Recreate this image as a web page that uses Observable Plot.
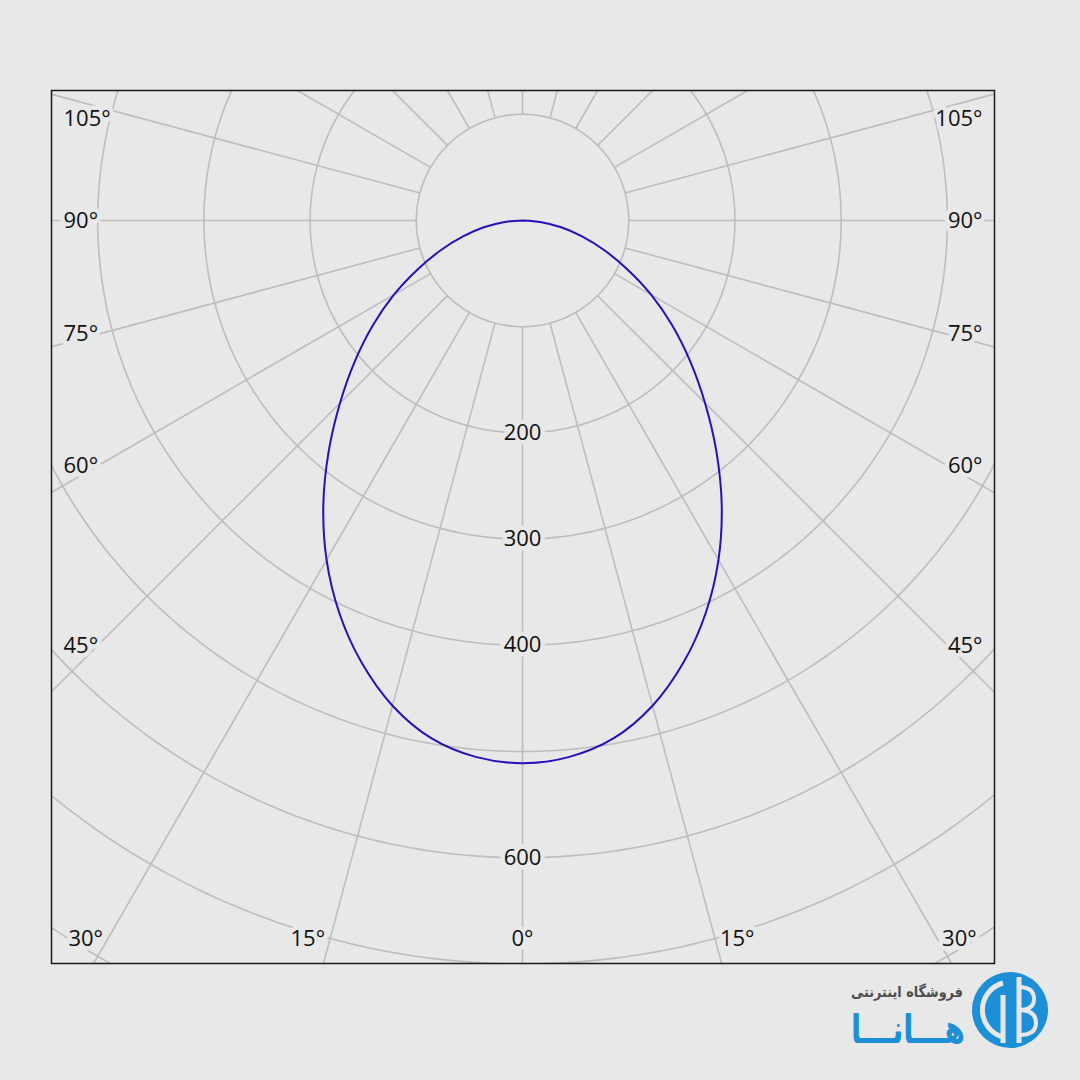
<!DOCTYPE html>
<html><head><meta charset="utf-8">
<script src="https://cdn.jsdelivr.net/npm/d3@7"></script>
<script src="https://cdn.jsdelivr.net/npm/@observablehq/plot@0.6"></script>
<style>
html,body{margin:0;padding:0;background:#e8e8e8;width:1080px;height:1080px;overflow:hidden}
#chart svg{display:block;background:#e8e8e8}
#logo{display:block}
</style></head><body>
<div id="chart"></div>
<svg id="logo" width="1080" height="115" viewBox="0 0 1080 115">
  <text x="907" y="32" text-anchor="middle" font-family="DejaVu Sans" font-weight="bold" font-size="15" fill="#4d4d4d" textLength="112" lengthAdjust="spacingAndGlyphs">فروشگاه اینترنتی</text>
  <text x="908" y="78" text-anchor="middle" font-family="DejaVu Sans" font-weight="bold" font-size="40" fill="#1d8fd6" textLength="114" lengthAdjust="spacingAndGlyphs">هـــانـــا</text>
  <circle cx="1010" cy="45" r="38" fill="#1d8fd6"/>
  <path d="M 1003 18 A 28 28 0 0 0 1003 72" fill="none" stroke="#e8e8e8" stroke-width="5"/>
  <line x1="1003" y1="30" x2="1003" y2="78" stroke="#e8e8e8" stroke-width="5"/>
  <line x1="1019" y1="12" x2="1019" y2="78" stroke="#e8e8e8" stroke-width="5"/>
  <path d="M 1019 22 Q 1034 22 1034 34 Q 1034 45 1019 45 Q 1036 45 1036 58 Q 1036 70 1019 70" fill="none" stroke="#e8e8e8" stroke-width="4"/>
</svg>
<script>
// Luminous intensity (cd/klm) per angle from nadir, symmetric distribution
const angles = [0,5,10,15,20,25,30,35,40,45,50,55,60,65,70,75,80,85,90];
const intensity = [511,507,495,473,443,408,369,327,284,243,206,172,140,109,82,58,37,18,0];

// Grid definitions
const ringValues = [100,200,300,400,500,600,700,800,900];
const ringLabels = [200,300,400,600];
const spokeAngles = d3.range(0, 360, 15);
const sideAngleLabels = [45,60,75,90,105];
const bottomAngleLabels = [0,15,30];

// visible window in intensity units (center of diagram at 0,0; y grows downward)
const xDomain = [-443.5, 444.4];
const yDomain = [699.6, -122.4];
const pxPerUnit = 943 / (xDomain[1] - xDomain[0]);

const rad = d => d * Math.PI / 180;
const bg = "#e8e8e8";

// curve points, mirrored
const curve = [];
for (let i = angles.length - 1; i > 0; i--) curve.push({a: -angles[i], r: intensity[i]});
for (let i = 0; i < angles.length; i++) curve.push({a: angles[i], r: intensity[i]});
curve.forEach(d => { d.x = d.r * Math.sin(rad(d.a)); d.y = d.r * Math.cos(rad(d.a)); });

// rings
const ringPts = [];
for (const r of ringValues) for (let p = 0; p <= 360; p += 1)
  ringPts.push({r, x: r * Math.sin(rad(p)), y: r * Math.cos(rad(p))});

// spokes
const spokes = spokeAngles.map(a => ({
  x1: 100 * Math.sin(rad(a)), y1: 100 * Math.cos(rad(a)),
  x2: 1000 * Math.sin(rad(a)), y2: 1000 * Math.cos(rad(a))
}));

// angle labels, grouped by anchor
const labStart = [], labEnd = [], labMid = [], labBStart = [], labBEnd = [];
const inset = 47 / pxPerUnit, topLim = yDomain[1] + 28 / pxPerUnit;
for (const a of sideAngleLabels) {
  const xr = xDomain[1] - inset;
  let y = Math.cos(rad(a)) * (xr / Math.sin(rad(a)));
  y = Math.max(y, topLim);
  labStart.push({x: xDomain[0], y, t: a + "°"});
  labEnd.push({x: xDomain[1], y, t: a + "°"});
}
const yb = yDomain[0] - 25 / pxPerUnit;
for (const a of bottomAngleLabels) {
  const x = Math.tan(rad(a)) * yb;
  if (a === 0) labMid.push({x: 0, y: yb, t: "0°"});
  else {
    labBStart.push({x: x, y: yb, t: a + "°"});
    labBEnd.push({x: -x, y: yb, t: a + "°"});
  }
}

const font = "Open Sans";
const txt = {x: "x", y: "y", text: "t", fontSize: 22, fill: "#111", stroke: bg, strokeWidth: 9, paintOrder: "stroke"};
const chart = Plot.plot({
  width: 1080, height: 965,
  marginLeft: 51, marginRight: 86, marginTop: 90, marginBottom: 2,
  x: {domain: xDomain, axis: null},
  y: {domain: yDomain, axis: null},
  style: {background: bg, fontFamily: font},
  marks: [
    Plot.line(ringPts, {x: "x", y: "y", z: "r", stroke: "#bdbdbd", strokeWidth: 1.6, clip: true}),
    Plot.link(spokes, {x1: "x1", y1: "y1", x2: "x2", y2: "y2", stroke: "#bdbdbd", strokeWidth: 1.6, clip: true}),
    Plot.text(ringLabels, {x: () => 0, y: d => d, text: d => String(d), fontSize: 22, fill: "#111", stroke: bg, strokeWidth: 9, paintOrder: "stroke"}),
    Plot.text(labStart, {...txt, textAnchor: "start", dx: 12}),
    Plot.text(labEnd, {...txt, textAnchor: "end", dx: -12}),
    Plot.text(labMid, {...txt, textAnchor: "middle"}),
    Plot.text(labBStart, {...txt, textAnchor: "start", dx: 5}),
    Plot.text(labBEnd, {...txt, textAnchor: "end", dx: -5}),
    Plot.line(curve, {x: "x", y: "y", stroke: "#2412b8", strokeWidth: 2, curve: "catmull-rom"}),
    Plot.frame({stroke: "#1a1a1a", strokeWidth: 1.5})
  ]
});
document.getElementById("chart").appendChild(chart);
</script>
</body></html>
